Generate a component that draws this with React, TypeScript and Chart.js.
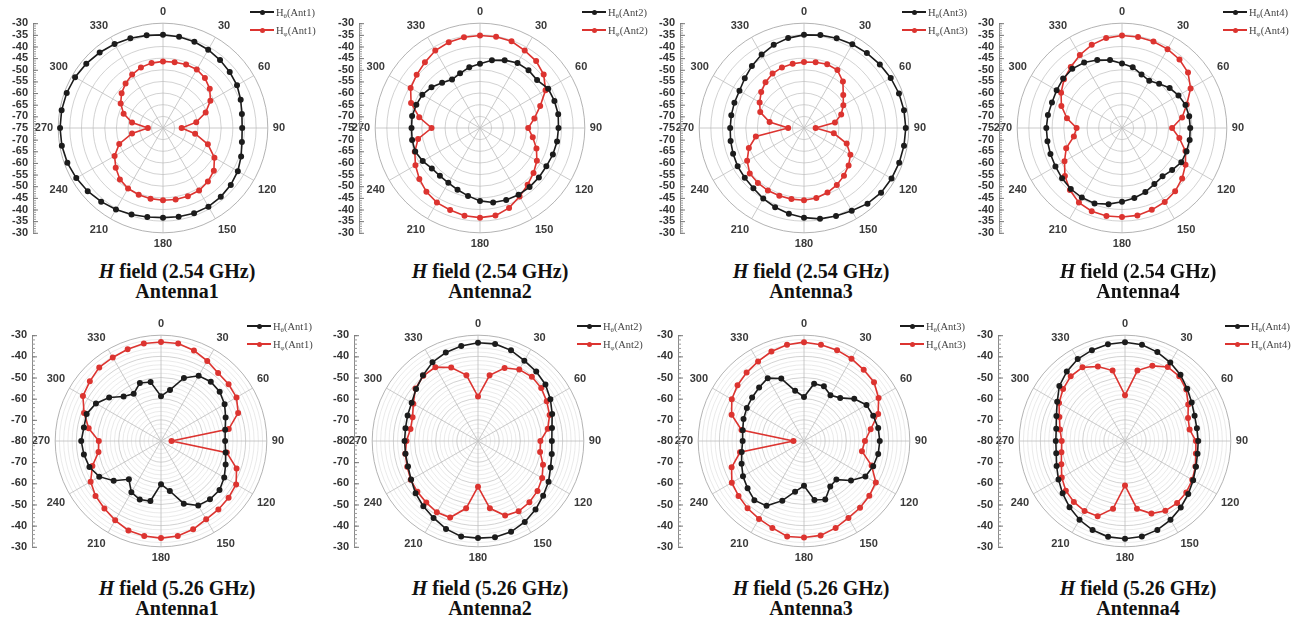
import React, { useEffect, useRef } from 'react';
import { Chart, registerables } from 'chart.js';

Chart.register(...registerables);

// ---------- data ----------
const ANGLES = [0, 10, 20, 30, 40, 50, 60, 70, 80, 90, 100, 110, 120, 130, 140, 150, 160, 170,
  180, 190, 200, 210, 220, 230, 240, 250, 260, 270, 280, 290, 300, 310, 320, 330, 340, 350];

const AXIS_TICKS_254 = [-30, -35, -40, -45, -50, -55, -60, -65, -70, -75];
const AXIS_TICKS_526 = [-30, -40, -50, -60, -70, -80];

const TOP_ANT1_THETA = [-35, -35.2, -35.6, -36.2, -36.9, -37.6, -38.3, -39.5, -40.6, -41, -40.6, -39.3, -37.9, -37, -36.4, -36, -36, -36.3,
  -36.5, -36.2, -35.5, -34.6, -33.7, -32.8, -32, -31.3, -30.9, -30.8, -30.8, -31, -31.4, -32, -32.7, -33.4, -34, -34.6];
const TOP_ANT1_PHI = [-46.4, -46.3, -46, -46, -47, -48.8, -51.5, -55.5, -60.5, -67, -61, -54.5, -49.5, -46.5, -45, -44, -43.8, -43.8,
  -44, -44.2, -44.5, -45, -46.2, -48.5, -51, -55, -61.5, -68.5, -61.5, -57, -54, -51.8, -50, -48.5, -47.3, -46.7];

const TOP_ANT2_THETA = [-47.4, -45.5, -44, -42.8, -42.6, -43, -41.2, -41, -40.9, -41.3, -41.4, -41.7, -42.1, -42, -41.9, -41.9, -42.1, -42.5,
  -43.7, -45.4, -46.8, -47.8, -48.2, -48, -46.6, -45.4, -45.4, -45.6, -45.4, -45.9, -46.4, -47.8, -49.7, -51, -50, -48.5];
const TOP_ANT2_PHI = [-35.3, -35.2, -35.4, -36.6, -37.5, -39.3, -42.5, -47.5, -51.3, -54.3, -52, -49.2, -46.8, -45, -43.2, -41, -38.5, -36.8,
  -36.5, -36.7, -37.5, -38, -39.2, -41, -43, -45.2, -48, -54.2, -48.5, -43.5, -40.6, -39.5, -38.2, -36.6, -35.8, -35.4];

const TOP_ANT3_THETA = [-35, -34.5, -34, -33.5, -33, -32.5, -32, -31.6, -31.4, -31.3, -31.4, -31.5, -31.6, -31.8, -32.6, -34, -34.8, -35.4,
  -36.5, -37.6, -38.8, -40, -41.2, -41.8, -42.1, -42.6, -43, -43.3, -43.3, -43.2, -43, -41.8, -40.2, -38.6, -37, -35.8];
const TOP_ANT3_PHI = [-46.7, -46.3, -45.9, -46.3, -49, -53, -55.5, -58, -61.5, -70, -62, -55.5, -52, -50, -48.3, -46.8, -45.5, -44.5,
  -44, -44, -44, -44, -44.2, -44.6, -46.8, -49.8, -54, -68.2, -60, -55, -53, -51, -49.3, -48, -47.3, -47];

const TOP_ANT4_THETA = [-47.3, -48.5, -50.5, -51.6, -50.2, -48.3, -47, -46, -45.7, -45.7, -45.5, -45.5, -45.6, -46.9, -47.9, -47.2, -45.7, -44.5,
  -43.3, -41.8, -40.5, -40.5, -40.8, -41.4, -42, -42.3, -42.5, -42.5, -42.7, -43, -42.6, -42, -41.8, -42.5, -43.9, -45.4];
const TOP_ANT4_PHI = [-35.3, -35.3, -35.5, -35.9, -36.6, -38, -41, -45.4, -48.8, -53.5, -50, -46, -43.5, -41.3, -39.5, -38.3, -37.6, -36.9,
  -36.8, -36.6, -37, -38, -40.2, -43, -46.5, -49.5, -54, -55.5, -51, -47.3, -44.8, -42.5, -40.8, -38.8, -37, -35.8];

const BOT_ANT1_THETA = [-58.8, -55.5, -48.3, -44.4, -43.4, -43.8, -45.3, -47.5, -49.2, -49.7, -49, -47.5, -45.5, -43.9, -44, -44.8, -48.5, -56,
  -59.6, -51.2, -50.6, -52, -56.4, -50.8, -46.3, -44, -43, -42.3, -43, -42.6, -44.5, -48, -52.5, -54.2, -50.8, -51.7];
const BOT_ANT1_PHI = [-33.2, -33.2, -34.5, -36.3, -38, -38.3, -38.8, -41.2, -47.5, -75, -48.4, -42, -39, -38.3, -37.8, -37.3, -35.6, -34.4,
  -34.1, -34.4, -35, -36.7, -38.4, -39.6, -41.6, -45.5, -50, -50.6, -45.3, -41.3, -37.4, -36.1, -34.6, -34.4, -33.9, -33.2];

const BOT_ANT2_THETA = [-33.6, -33.4, -34.4, -36.2, -37.2, -38.4, -40.5, -42.7, -44.5, -45.1, -44.6, -43.5, -41.5, -39.8, -37.7, -35.8, -34.3, -33.8,
  -34.1, -34.2, -35.8, -38, -39.8, -41.5, -43.5, -44.8, -45.2, -45.3, -45.2, -44.6, -43.8, -41.8, -39.5, -37, -35.5, -34.4];
const BOT_ANT2_PHI = [-59, -48.5, -43.3, -41, -40.4, -41, -42.5, -44, -46.5, -50.5, -50.2, -47.3, -45, -43.3, -42.2, -41.6, -42.5, -47.7,
  -58.4, -47.7, -41.5, -41.1, -42, -42.6, -43.3, -44.4, -45.1, -46.2, -47.6, -47.1, -44.7, -41.4, -39.8, -39.7, -43, -48.4];

const BOT_ANT3_THETA = [-59.2, -52.5, -52.5, -55, -53.4, -49, -45.9, -45.2, -44.4, -44.2, -44.4, -45.2, -46.5, -51, -56.2, -55.2, -50.6, -51.7,
  -58.8, -55.7, -50, -44.6, -43.5, -45.2, -46.7, -48.6, -50.1, -51, -50.6, -49.6, -48.8, -48, -47, -45.7, -48.6, -55.9];
const BOT_ANT3_PHI = [-33.3, -33.8, -34.3, -35.1, -36.1, -36.8, -39.3, -42.7, -48, -51.2, -52.2, -46, -40.8, -39.7, -38.8, -38, -36.3, -34.7,
  -34.4, -34.2, -36.3, -37.5, -38.5, -39.6, -40.6, -43.6, -49.3, -75, -50, -43.6, -40.6, -39, -37.8, -36.6, -35, -33.8];

const BOT_ANT4_THETA = [-33.3, -33.8, -35.3, -37.2, -39.2, -41.6, -43.6, -45, -45.5, -45.4, -45.2, -44.3, -42.8, -41, -39, -37, -35.3, -34.2,
  -33.8, -34, -35.2, -37, -39.2, -41.5, -43.7, -45.6, -47, -47.3, -47, -45.5, -43, -39.5, -37.2, -35.3, -34.3, -33.6];
const BOT_ANT4_PHI = [-58.4, -46.2, -42.2, -39.6, -40.1, -42.2, -45.5, -48.3, -49, -46.5, -46, -44.6, -43.3, -42.2, -41.7, -41.9, -43.5, -47.5,
  -59, -47.5, -42.2, -41.8, -42.4, -43.5, -45.5, -48, -49.5, -50.1, -48.8, -47, -44, -41.8, -40.1, -39.8, -42.5, -46.2];

const ROW_TITLES = ['H field (2.54 GHz)', 'H field (5.26 GHz)'];
const ANT_NAMES = ['Antenna1', 'Antenna2', 'Antenna3', 'Antenna4'];
const ANT_TAGS = ['Ant1', 'Ant2', 'Ant3', 'Ant4'];

// ---------- layout / style ----------
const BLACK = '#1c1c1c';
const RED = '#dc3430';

const ROWS = [
  { min: -75, max: -30, step: 5, axisTicks: AXIS_TICKS_254, axisMinor: 1, cy: 128, h: 246, capTop: 261, legendY: [12, 30], ringMajor: 5 },
  { min: -80, max: -30, step: 2, axisTicks: AXIS_TICKS_526, axisMinor: 2, cy: 441, h: 248, capTop: 578, legendY: [326, 344], ringMajor: 10 },
];

const PANELS = [
  { row: 0, col: 0, cx: 163, axisOff: 130, legendX: 250, capX: 177, theta: TOP_ANT1_THETA, phi: TOP_ANT1_PHI },
  { row: 0, col: 1, cx: 480, axisOff: 121, legendX: 582, capX: 490, theta: TOP_ANT2_THETA, phi: TOP_ANT2_PHI },
  { row: 0, col: 2, cx: 804, axisOff: 124, legendX: 902, capX: 811, theta: TOP_ANT3_THETA, phi: TOP_ANT3_PHI },
  { row: 0, col: 3, cx: 1122, axisOff: 123, legendX: 1223, capX: 1138, theta: TOP_ANT4_THETA, phi: TOP_ANT4_PHI },
  { row: 1, col: 0, cx: 161, axisOff: 129, legendX: 247, capX: 177, theta: BOT_ANT1_THETA, phi: BOT_ANT1_PHI },
  { row: 1, col: 1, cx: 478, axisOff: 124, legendX: 577, capX: 490, theta: BOT_ANT2_THETA, phi: BOT_ANT2_PHI },
  { row: 1, col: 2, cx: 804, axisOff: 126, legendX: 900, capX: 811, theta: BOT_ANT3_THETA, phi: BOT_ANT3_PHI },
  { row: 1, col: 3, cx: 1125, axisOff: 127, legendX: 1225, capX: 1138, theta: BOT_ANT4_THETA, phi: BOT_ANT4_PHI },
];

const CANVAS_W = 320;
const SANS = "'Liberation Sans', Arial, sans-serif";
const SERIF = "'Liberation Serif', 'Times New Roman', serif";

function PolarPanel({ p }: { p: any }) {
  const ref = useRef<HTMLCanvasElement>(null);
  const row = ROWS[p.row];
  useEffect(() => {
    const axisPlugin = {
      id: 'sideAxis',
      afterDraw(chart: any) {
        const s = chart.scales.r;
        const ctx = chart.ctx;
        const x = s.xCenter - p.axisOff;
        const yc = s.yCenter;
        const dMax = s.getDistanceFromCenterForValue(row.max);
        ctx.save();
        ctx.strokeStyle = '#8a8a8a';
        ctx.lineWidth = 1;
        ctx.beginPath();
        ctx.moveTo(x + 0.5, yc - dMax);
        ctx.lineTo(x + 0.5, yc + dMax);
        ctx.stroke();
        ctx.strokeStyle = '#9a9a9a';
        for (let v = row.min; v <= row.max + 1e-6; v += row.axisMinor) {
          const d = s.getDistanceFromCenterForValue(v);
          ctx.beginPath();
          ctx.moveTo(x, yc - d + 0.5);
          ctx.lineTo(x + 3, yc - d + 0.5);
          ctx.moveTo(x, yc + d + 0.5);
          ctx.lineTo(x + 3, yc + d + 0.5);
          ctx.stroke();
        }
        ctx.fillStyle = '#333';
        ctx.font = `bold 11px ${SANS}`;
        ctx.textAlign = 'right';
        ctx.textBaseline = 'middle';
        ctx.strokeStyle = '#777';
        row.axisTicks.forEach((v: number) => {
          const d = s.getDistanceFromCenterForValue(v);
          const ys = d < 0.5 ? [yc] : [yc - d, yc + d];
          ys.forEach((y) => {
            ctx.beginPath();
            ctx.moveTo(x, y + 0.5);
            ctx.lineTo(x + 5, y + 0.5);
            ctx.stroke();
            ctx.fillText(String(v), x - 5, y);
          });
        });
        ctx.restore();
      },
    };

    const chart = new Chart(ref.current as HTMLCanvasElement, {
      type: 'radar',
      data: {
        labels: ANGLES.map(String),
        datasets: [
          {
            label: 'theta',
            data: p.theta,
            borderColor: BLACK,
            backgroundColor: BLACK,
            pointBackgroundColor: BLACK,
            pointBorderColor: BLACK,
            borderWidth: 1.6,
            pointRadius: 2.2,
            fill: false,
          },
          {
            label: 'phi',
            data: p.phi,
            borderColor: RED,
            backgroundColor: RED,
            pointBackgroundColor: RED,
            pointBorderColor: RED,
            borderWidth: 1.6,
            pointRadius: 2.2,
            fill: false,
          },
        ],
      },
      options: {
        responsive: false,
        animation: false,
        devicePixelRatio: 1,
        layout: { padding: 0 },
        plugins: { legend: { display: false }, tooltip: { enabled: false } },
        scales: {
          r: {
            min: row.min,
            max: row.max,
            startAngle: 0,
            ticks: { display: false, stepSize: row.step },
            grid: {
              circular: true,
              lineWidth: 0.8,
              color: (c: any) => {
                const v = c.tick ? c.tick.value : 0;
                if (Math.abs(v - row.max) < 1e-6) return '#a0a0a0';
                if (Math.abs(v % row.ringMajor) > 1e-6) return '#e4e4e4';
                return '#c6c6c6';
              },
            },
            angleLines: {
              lineWidth: 0.8,
              color: (c: any) => (c.index % 3 === 0 ? '#bdbdbd' : 'rgba(0,0,0,0)'),
            },
            pointLabels: {
              padding: 5,
              color: '#3a3a3a',
              font: { family: SANS, size: 11, weight: 'bold' },
              callback: (label: string, i: number) => (i % 3 === 0 ? label : ''),
            },
          },
        },
      },
      plugins: [axisPlugin],
    } as any);
    return () => chart.destroy();
  }, []);

  return (
    <canvas
      ref={ref}
      width={CANVAS_W}
      height={row.h}
      style={{ position: 'absolute', left: p.cx - CANVAS_W / 2, top: row.cy - row.h / 2, width: CANVAS_W, height: row.h }}
    />
  );
}

function LegendRow({ x, y, color, sym, tag }: any) {
  return (
    <div style={{ position: 'absolute', left: x, top: y - 7, height: 14, display: 'flex', alignItems: 'center', whiteSpace: 'nowrap', font: `10.5px ${SERIF}`, color: '#444' }}>
      <span style={{ position: 'relative', display: 'inline-block', width: 24, height: 14 }}>
        <span style={{ position: 'absolute', left: 0, top: 6.2, width: 24, height: 1.6, background: color }} />
        <span style={{ position: 'absolute', left: 9.5, top: 4.5, width: 5, height: 5, borderRadius: '50%', background: color }} />
      </span>
      <span style={{ marginLeft: 2 }}>
        H<span style={{ fontSize: 7, position: 'relative', top: 2 }}>{sym}</span>({tag})
      </span>
    </div>
  );
}

export default function App() {
  return (
    <div style={{ position: 'absolute', left: 0, top: 0, width: 1294, height: 625, background: '#fff', overflow: 'hidden' }}>
      {PANELS.map((p, i) => (
        <PolarPanel key={'c' + i} p={p} />
      ))}
      {PANELS.map((p, i) => {
        const row = ROWS[p.row];
        return (
          <React.Fragment key={'t' + i}>
            <LegendRow x={p.legendX} y={row.legendY[0]} color={BLACK} sym="θ" tag={ANT_TAGS[p.col]} />
            <LegendRow x={p.legendX} y={row.legendY[1]} color={RED} sym="φ" tag={ANT_TAGS[p.col]} />
            <div
              style={{
                position: 'absolute',
                left: p.capX - 130,
                width: 260,
                top: row.capTop,
                textAlign: 'center',
                font: `bold 20px ${SERIF}`,
                lineHeight: '20px',
                color: '#111',
              }}
            >
              <i>H</i>
              {ROW_TITLES[p.row].slice(1)}
              <br />
              {ANT_NAMES[p.col]}
            </div>
          </React.Fragment>
        );
      })}
    </div>
  );
}
